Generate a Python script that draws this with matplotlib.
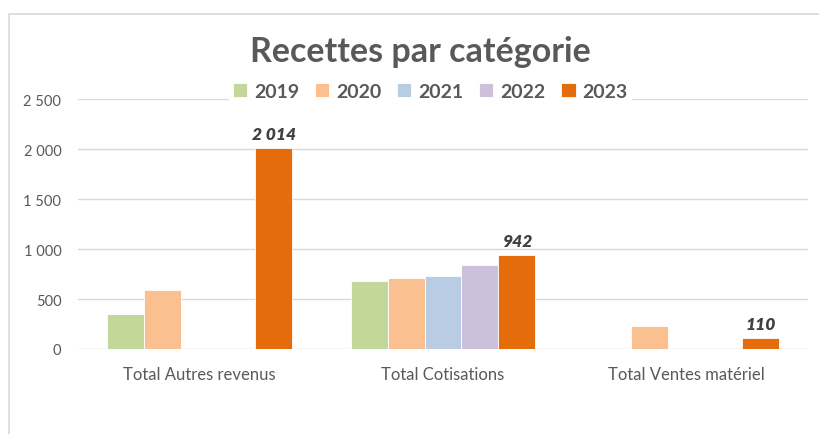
import matplotlib.pyplot as plt
import numpy as np

categories = ['Total Autres revenus', 'Total Cotisations', 'Total Ventes matériel']
years = ['2019', '2020', '2021', '2022', '2023']
v2019 = [355, 677, np.nan]
v2020 = [592, 710, 234]
v2021 = [np.nan, 727, np.nan]
v2022 = [np.nan, 837, np.nan]
v2023 = [2014, 942, 110]
yticks = [0, 500, 1000, 1500, 2000, 2500]

colors = ['#C4D79B', '#FAC090', '#B8CCE4', '#CCC0DA', '#E46C0A']
series = [v2019, v2020, v2021, v2022, v2023]

plt.rcParams['font.family'] = ['Lato', 'DejaVu Sans']

fig = plt.figure(figsize=(8.19, 4.35), dpi=100)
# chart frame (only left and top edges are visible)
fig.patches.append(plt.Rectangle((9 / 819, -0.1), 1.2, 1.1 - 15 / 435,
                                 transform=fig.transFigure, fill=False,
                                 edgecolor='#D9D9D9', linewidth=1.2))
ax = fig.add_axes([78 / 819, 1 - 350 / 435, 730 / 819, 250 / 435])

x = np.arange(len(categories))
w = 0.152
for i, (vals, c, yr) in enumerate(zip(series, colors, years)):
    pos = x + (i - 2) * w
    ax.bar(pos, vals, w, color=c, edgecolor='white', linewidth=0.6, label=yr, zorder=3)
    if yr == '2023':
        for p, v in zip(pos, vals):
            ax.text(p, v + 55, f'{v:,}'.replace(',', ' '), ha='center', va='bottom',
                    fontsize=12.5, fontweight='heavy', fontstyle='italic', color='#404040', zorder=4)

ax.set_xlim(-0.5, 2.5)
ax.set_ylim(0, 2500)
ax.set_yticks(yticks)
ax.set_yticklabels([f'{t:,}'.replace(',', ' ') for t in yticks])
ax.set_xticks(x)
ax.set_xticklabels(categories, fontsize=12)
ax.tick_params(axis='both', length=0, colors='#595959')
ax.tick_params(axis='y', labelsize=10.5, pad=12)
ax.tick_params(axis='x', pad=12)
ax.grid(axis='y', color='#D9D9D9', linewidth=1, zorder=0)
for s in ax.spines.values():
    s.set_visible(False)

fig.text(420 / 819, 1 - 52 / 435, 'Recettes par catégorie', ha='center', va='center',
         fontsize=24.5, fontweight='bold', color='#595959')
leg = ax.legend(loc='center', bbox_to_anchor=(430 / 819, 1 - 92 / 435),
                bbox_transform=fig.transFigure, ncol=5, frameon=True, fancybox=False,
                edgecolor='white', framealpha=1, handlelength=0.75, handleheight=0.75,
                handletextpad=0.35, columnspacing=0.8, borderpad=0.2,
                prop={'size': 14, 'weight': 'bold'})
for t in leg.get_texts():
    t.set_color('#595959')

fig.savefig('out.png', dpi=100)
